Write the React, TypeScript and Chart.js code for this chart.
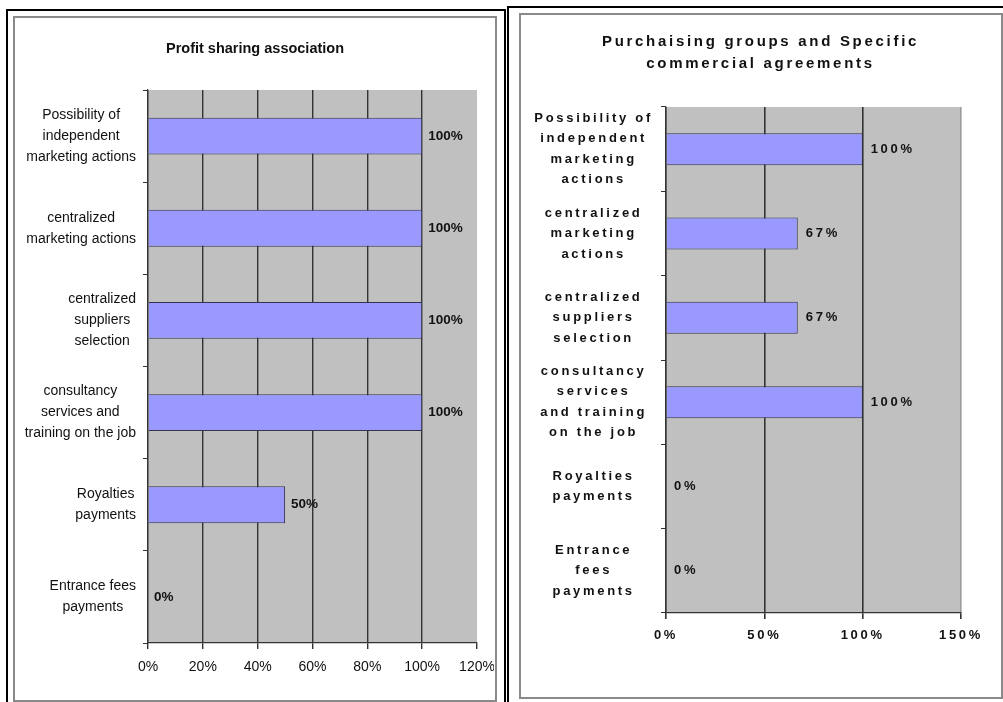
import React, { useEffect, useRef } from 'react';
import { Chart, registerables } from 'chart.js';

Chart.register(...registerables);

// ---------- DATA ----------
const leftTitle = 'Profit sharing association';
const leftCategories: string[][] = [
  ['Possibility of', 'independent', 'marketing actions'],
  ['centralized', 'marketing actions'],
  ['centralized', 'suppliers', 'selection'],
  ['consultancy', 'services and', 'training on the job'],
  ['Royalties', 'payments'],
  ['Entrance fees', 'payments'],
];
const leftValues = [100, 100, 100, 100, 50, 0];
const leftAxisMax = 120;
const leftAxisStep = 20;

const rightTitle = ['Purchaising groups and Specific', 'commercial agreements'];
const rightCategories: string[][] = [
  ['Possibility of', 'independent', 'marketing', 'actions'],
  ['centralized', 'marketing', 'actions'],
  ['centralized', 'suppliers', 'selection'],
  ['consultancy', 'services', 'and training', 'on the job'],
  ['Royalties', 'payments'],
  ['Entrance', 'fees', 'payments'],
];
const rightValues = [100, 67, 67, 100, 0, 0];
const rightAxisMax = 150;
const rightAxisStep = 50;

// ---------- STYLE ----------
const BAR_FILL = '#9999FF';
const BAR_BORDER = '#33334d';
const PLOT_BG = '#C0C0C0';
const GRID = '#333333';
const TEXT = '#111111';
const SANS = '"Liberation Sans", Arial, sans-serif';

type Cfg = {
  categories: string[][];
  values: number[];
  max: number;
  step: number;
  title: string | string[];
  titleFont: any;
  titlePadding: { top: number; bottom: number };
  yWidth: number;
  xHeight: number;
  padRight: number;
  tickFont: any;
  tickPadding: number;
  barPct: number;
  catFont: string;
  catLineHeight: number;
  catGap: number;
  catMode: 'block' | 'global';
  valFont: string;
  valOffset: number;
  letterSpacing: string;
  lastGridColor: string;
  gridWidth: number;
};

function makeConfig(c: Cfg): any {
  const bgPlugin = {
    id: 'plotBg',
    beforeDraw(chart: any) {
      const ctx = chart.ctx;
      (ctx as any).letterSpacing = c.letterSpacing;
      const a = chart.chartArea;
      ctx.save();
      ctx.fillStyle = PLOT_BG;
      ctx.fillRect(a.left, a.top, a.right - a.left, a.bottom - a.top);
      ctx.restore();
    },
  };
  const catPlugin = {
    id: 'catLabels',
    afterDraw(chart: any) {
      const ctx = chart.ctx;
      const ys = chart.scales.y;
      const labels = chart.data.labels as string[][];
      ctx.save();
      (ctx as any).letterSpacing = c.letterSpacing;
      ctx.font = c.catFont;
      ctx.fillStyle = TEXT;
      ctx.textAlign = 'center';
      ctx.textBaseline = 'middle';
      const right = chart.chartArea.left - c.catGap;
      const widths = labels.map((lines) => Math.max(...lines.map((l) => ctx.measureText(l).width)));
      const maxW = Math.max(...widths);
      labels.forEach((lines, i) => {
        const cy = ys.getPixelForValue(i);
        const w = c.catMode === 'block' ? widths[i] : maxW;
        const cx = right - w / 2;
        const n = lines.length;
        lines.forEach((line, j) => {
          ctx.fillText(line, cx, cy + (j - (n - 1) / 2) * c.catLineHeight);
        });
      });
      ctx.restore();
    },
  };
  const valPlugin = {
    id: 'valLabels',
    afterDatasetsDraw(chart: any) {
      const ctx = chart.ctx;
      const meta = chart.getDatasetMeta(0);
      const data = chart.data.datasets[0].data as number[];
      ctx.save();
      (ctx as any).letterSpacing = c.letterSpacing;
      ctx.font = c.valFont;
      ctx.fillStyle = TEXT;
      ctx.textAlign = 'left';
      ctx.textBaseline = 'middle';
      meta.data.forEach((bar: any, i: number) => {
        ctx.fillText(data[i] + '%', bar.x + c.valOffset, bar.y);
      });
      ctx.restore();
    },
  };

  return {
    type: 'bar',
    data: {
      labels: c.categories,
      datasets: [
        {
          data: c.values,
          backgroundColor: BAR_FILL,
          borderColor: BAR_BORDER,
          borderWidth: 1,
          categoryPercentage: 1,
          barPercentage: c.barPct,
        },
      ],
    },
    options: {
      indexAxis: 'y',
      responsive: false,
      animation: false,
      events: [],
      layout: { padding: { left: 0, right: 0, top: 0, bottom: 0 } },
      plugins: {
        legend: { display: false },
        tooltip: { enabled: false },
        title: {
          display: true,
          text: c.title,
          color: TEXT,
          font: c.titleFont,
          padding: c.titlePadding,
        },
      },
      scales: {
        x: {
          type: 'linear',
          min: 0,
          max: c.max,
          afterFit(scale: any) {
            scale.height = c.xHeight;
            scale.paddingLeft = 0;
            scale.paddingRight = c.padRight;
          },
          ticks: {
            stepSize: c.step,
            callback: (v: any) => v + '%',
            color: TEXT,
            font: c.tickFont,
            padding: c.tickPadding,
            maxRotation: 0,
            autoSkip: false,
          },
          grid: {
            color: (ctx: any) => (ctx.tick && ctx.tick.value === c.max ? c.lastGridColor : GRID),
            tickColor: GRID,
            tickLength: 6,
            lineWidth: c.gridWidth,
          },
          border: { display: true, color: GRID, width: 1.2 },
        },
        y: {
          type: 'category',
          afterFit(scale: any) {
            scale.width = c.yWidth;
          },
          ticks: { display: false },
          grid: {
            display: true,
            drawOnChartArea: false,
            drawTicks: true,
            tickLength: 5,
            color: GRID,
            offset: true,
          },
          border: { display: true, color: GRID, width: 1.2 },
        },
      },
    },
    plugins: [bgPlugin, catPlugin, valPlugin],
  };
}

export default function App() {
  const leftRef = useRef<HTMLCanvasElement>(null);
  const rightRef = useRef<HTMLCanvasElement>(null);

  useEffect(() => {
    const left = new Chart(
      leftRef.current as HTMLCanvasElement,
      makeConfig({
        categories: leftCategories,
        values: leftValues,
        max: leftAxisMax,
        step: leftAxisStep,
        title: leftTitle,
        titleFont: { family: SANS, size: 14.5, weight: 'bold', lineHeight: 1.2 },
        titlePadding: { top: 21, bottom: 32.6 },
        yWidth: 132,
        xHeight: 55,
        padRight: 17,
        tickFont: { family: SANS, size: 14, lineHeight: 1.2 },
        tickPadding: 10,
        barPct: 0.4,
        catFont: '14px ' + SANS,
        catLineHeight: 21,
        catGap: 12,
        catMode: 'block',
        valFont: 'bold 13.5px ' + SANS,
        valOffset: 6,
        letterSpacing: '0px',
        lastGridColor: 'rgba(0,0,0,0)',
        gridWidth: 1.4,
      })
    );
    const right = new Chart(
      rightRef.current as HTMLCanvasElement,
      makeConfig({
        categories: rightCategories,
        values: rightValues,
        max: rightAxisMax,
        step: rightAxisStep,
        title: rightTitle,
        titleFont: { family: SANS, size: 15, weight: 'bold', lineHeight: 22 / 15 },
        titlePadding: { top: 15, bottom: 32 },
        yWidth: 144,
        xHeight: 82,
        padRight: 38,
        tickFont: { family: SANS, size: 13, weight: 'bold', lineHeight: 1.2 },
        tickPadding: 9,
        barPct: 0.38,
        catFont: 'bold 13px ' + SANS,
        catLineHeight: 20.5,
        catGap: 13,
        catMode: 'global',
        valFont: 'bold 13px ' + SANS,
        valOffset: 8,
        letterSpacing: '2.7px',
        lastGridColor: '#9a9a9a',
        gridWidth: 1.6,
      })
    );
    return () => {
      left.destroy();
      right.destroy();
    };
  }, []);

  const abs = (l: number, t: number, w: number, h: number, border: string): React.CSSProperties => ({
    position: 'absolute',
    left: l,
    top: t,
    width: w,
    height: h,
    border,
    boxSizing: 'border-box',
  });

  return (
    <div
      style={{
        position: 'fixed',
        left: 0,
        top: 0,
        width: 1003,
        height: 702,
        background: '#ffffff',
        overflow: 'hidden',
      }}
    >
      <div style={abs(6, 9, 500, 700, '2px solid #000')} />
      <div style={abs(13, 16, 484, 686, '2px solid #8a8a8a')} />
      <div style={abs(507, 6, 500, 700, '2px solid #000')} />
      <div style={abs(519, 13, 484, 686, '2px solid #8a8a8a')} />
      <canvas
        ref={leftRef}
        width={478}
        height={679}
        style={{ position: 'absolute', left: 16, top: 19 }}
      />
      <canvas
        ref={rightRef}
        width={477}
        height={679}
        style={{ position: 'absolute', left: 522, top: 16 }}
      />
    </div>
  );
}
